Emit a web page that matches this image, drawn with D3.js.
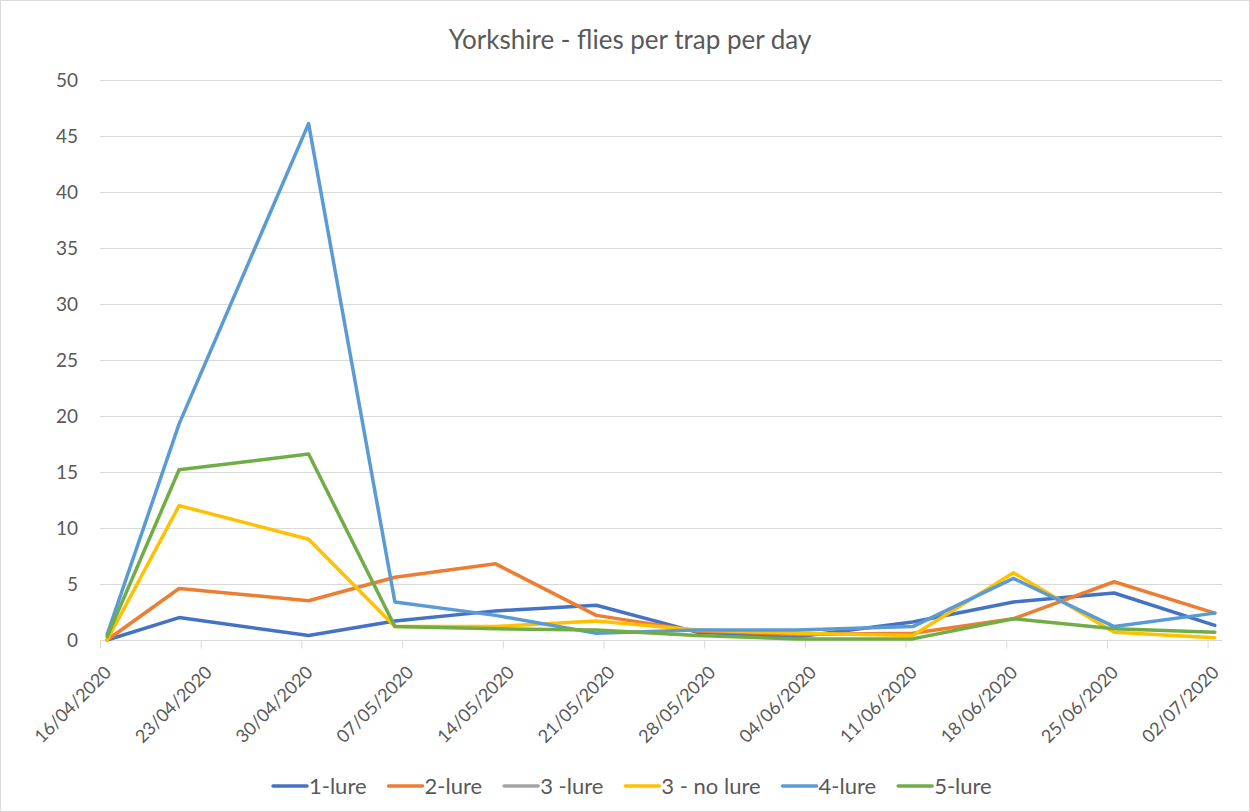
<!DOCTYPE html>
<html>
<head>
<meta charset="utf-8">
<script src="https://cdn.jsdelivr.net/npm/d3@7"></script>
<style>
  body { margin: 0; background: #fff; }
  text { font-family: Lato, "Open Sans", sans-serif; fill: #595959; }
</style>
</head>
<body>
<script>
// sample dates and series (flies per trap per day)
var dates = ["16/04/2020", "21/04/2020", "30/04/2020", "06/05/2020", "13/05/2020", "20/05/2020",
             "27/05/2020", "03/06/2020", "11/06/2020", "18/06/2020", "25/06/2020", "02/07/2020"];
var lure1   = [0,   2.0,  0.4,  1.7, 2.6, 3.1, 0.7, 0.3, 1.6, 3.4, 4.2, 1.3];
var lure2   = [0,   4.6,  3.5,  5.6, 6.8, 2.2, 0.8, 0.5, 0.6, 1.9, 5.2, 2.4];
var lure3   = [];   // no values plotted for this series
var noLure3 = [0,   12.0, 9.0,  1.2, 1.2, 1.7, 0.9, 0.6, 0.4, 6.0, 0.7, 0.2];
var lure4   = [0.5, 19.3, 46.1, 3.4, 2.2, 0.6, 0.9, 0.9, 1.2, 5.5, 1.2, 2.4];
var lure5   = [0.3, 15.2, 16.6, 1.2, 1.0, 0.9, 0.4, 0.1, 0.1, 1.9, 1.0, 0.7];

var tickLabels = ["16/04/2020", "23/04/2020", "30/04/2020", "07/05/2020", "14/05/2020", "21/05/2020",
                  "28/05/2020", "04/06/2020", "11/06/2020", "18/06/2020", "25/06/2020", "02/07/2020"];
var yTicks = [0, 5, 10, 15, 20, 25, 30, 35, 40, 45, 50];

var series = [
  {name: "1-lure", values: lure1, color: "#4472C4"},
  {name: "2-lure", values: lure2, color: "#ED7D31"},
  {name: "3 -lure", values: lure3, color: "#A5A5A5"},
  {name: "3 - no lure", values: noLure3, color: "#FFC000"},
  {name: "4-lure", values: lure4, color: "#5B9BD5"},
  {name: "5-lure", values: lure5, color: "#70AD47"}
];

var w = 1250, h = 812;
var plotLeft = 100, plotRight = 1222, plotTop = 80, plotBottom = 640;
var parse = d3.utcParse("%d/%m/%Y");

var svg = d3.select("body").append("svg")
    .attr("width", w)
    .attr("height", h);

// chart border
svg.append("rect")
    .attr("x", 0.5).attr("y", 0.5)
    .attr("width", w - 1).attr("height", h - 1)
    .attr("fill", "#fff")
    .attr("stroke", "#D9D9D9");

// date axis: each day is a slot, points sit in the middle of their day
var first = parse(tickLabels[0]);
var last = d3.utcDay.offset(parse(dates[dates.length - 1]), 1);
var x = d3.scaleUtc().domain([first, last]).range([plotLeft, plotRight]);
var y = d3.scaleLinear().domain([0, 50]).range([plotBottom, plotTop]);

function px(s) { return x(d3.utcHour.offset(parse(s), 12)); }

// gridlines
svg.append("g")
    .selectAll("line")
    .data(yTicks.slice(1))
    .enter()
    .append("line")
    .attr("x1", plotLeft).attr("x2", plotRight)
    .attr("y1", function(d) { return y(d) + 0.5; })
    .attr("y2", function(d) { return y(d) + 0.5; })
    .attr("stroke", "#D9D9D9")
    .attr("stroke-width", 1);

// y labels
svg.append("g")
    .selectAll("text")
    .data(yTicks)
    .enter()
    .append("text")
    .attr("x", 78)
    .attr("y", function(d) { return y(d); })
    .attr("dy", "0.35em")
    .attr("text-anchor", "end")
    .attr("font-size", "19px")
    .text(function(d) { return d; });

// x axis
var xAxis = d3.axisBottom(x)
    .tickValues(tickLabels.map(parse))
    .tickSize(8)
    .tickFormat(d3.utcFormat("%d/%m/%Y"));

var gx = svg.append("g")
    .attr("transform", "translate(0," + (plotBottom + 0.5) + ")")
    .call(xAxis);
gx.select(".domain").attr("stroke", "#D9D9D9").attr("d", "M" + plotLeft + ",0H" + plotRight);
gx.selectAll(".tick line").attr("stroke", "#D9D9D9");
gx.selectAll(".tick text")
    .attr("font-family", "Lato, sans-serif")
    .attr("font-size", "18px")
    .attr("fill", "#595959")
    .attr("text-anchor", "end")
    .attr("y", 0)
    .attr("dy", 0)
    .attr("transform", "translate(12,33) rotate(-45)");

// lines
var line = d3.line()
    .x(function(d, i) { return px(dates[i]); })
    .y(function(d) { return y(d); });

svg.append("g")
    .selectAll("path")
    .data(series)
    .enter()
    .append("path")
    .attr("d", function(s) { return s.values.length ? line(s.values) : null; })
    .attr("fill", "none")
    .attr("stroke", function(s) { return s.color; })
    .attr("stroke-width", 3.5)
    .attr("stroke-linejoin", "round")
    .attr("stroke-linecap", "round");

// title
svg.append("text")
    .attr("x", 630)
    .attr("y", 49)
    .attr("text-anchor", "middle")
    .attr("font-size", "26px")
    .text("Yorkshire - flies per trap per day");

// legend
var legend = svg.append("g");
var lx = 0;
series.forEach(function(s) {
  var g = legend.append("g").attr("transform", "translate(" + lx + ",0)");
  g.append("line")
    .attr("x1", 0).attr("x2", 34)
    .attr("y1", 0).attr("y2", 0)
    .attr("stroke", s.color)
    .attr("stroke-width", 3.5)
    .attr("stroke-linecap", "round");
  var t = g.append("text")
    .attr("x", 36)
    .attr("dy", "0.35em")
    .attr("font-size", "22px")
    .text(s.name);
  lx += 36 + t.node().getComputedTextLength() + 22;
});
lx -= 22;
legend.attr("transform", "translate(" + Math.round(632 - lx / 2) + ",786)");
</script>
</body>
</html>
